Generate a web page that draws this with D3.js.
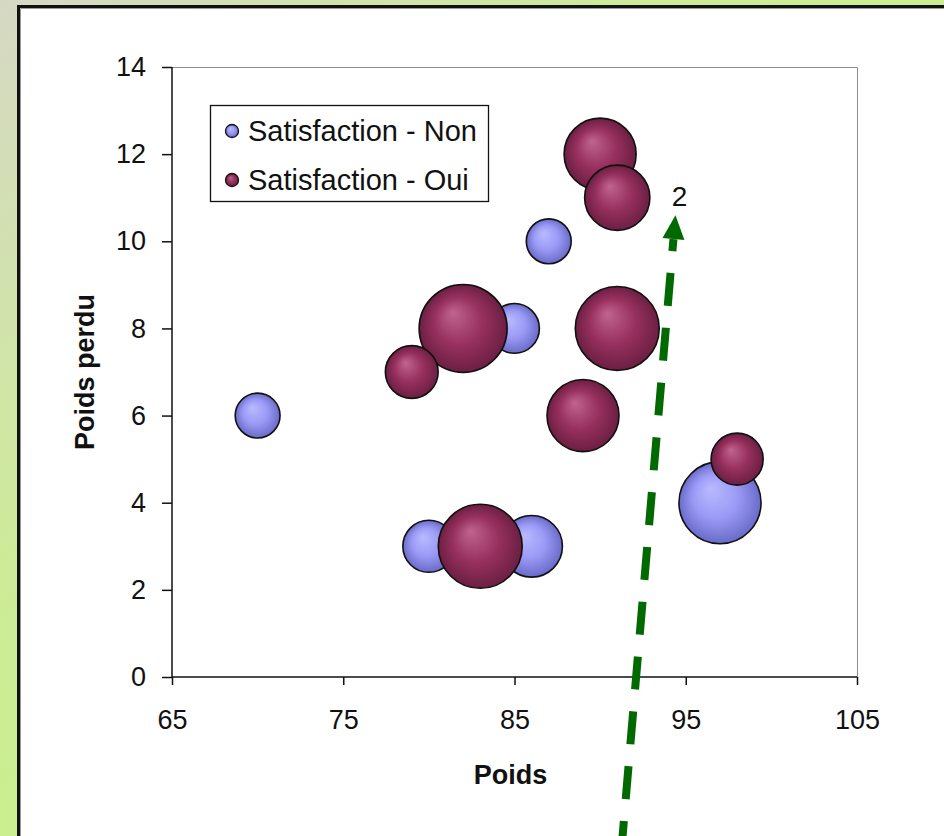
<!DOCTYPE html>
<html><head><meta charset="utf-8">
<script src="https://cdn.jsdelivr.net/npm/d3@7"></script>
<style>html,body{margin:0;padding:0;background:#fff;}svg{display:block;}</style>
</head><body>
<script>
// ---- data ----
const seriesNames = ["Satisfaction - Non", "Satisfaction - Oui"];
const nonX = [70, 87, 85, 80, 86, 97];
const nonY = [6, 10, 8, 3, 3, 4];
const nonSize = [2.6, 2.6, 3.2, 3.5, 4.9, 8.7];
const ouiX = [90, 91, 82, 79, 91, 89, 83, 98];
const ouiY = [12, 11, 8, 7, 8, 6, 3, 5];
const ouiSize = [6.7, 5.5, 10, 3.6, 9.1, 6.7, 9.1, 3.5];
const xTicks = [65, 75, 85, 95, 105];
const yTicks = [0, 2, 4, 6, 8, 10, 12, 14];
const annotationText = "2";
const arrowFrom = [91.3, -3.7];
const arrowTo = [94.4, 10.6];
const labelAt = [94.7, 11.1];

const W = 944, H = 836;
const svg = d3.select("body").append("svg").attr("width", W).attr("height", H);
const defs = svg.append("defs");

// background gradient
const bg = defs.append("linearGradient").attr("id", "bg").attr("x1", "0").attr("y1", "0").attr("x2", "1").attr("y2", "1");
bg.append("stop").attr("offset", "0").attr("stop-color", "#d6d8c4");
bg.append("stop").attr("offset", "0.35").attr("stop-color", "#cdeb98");
bg.append("stop").attr("offset", "1").attr("stop-color", "#c4f878");
svg.append("rect").attr("width", W).attr("height", H).attr("fill", "url(#bg)");

// white panel
svg.append("rect").attr("x", 18.5).attr("y", 6.5).attr("width", W).attr("height", H)
  .attr("fill", "#fff").attr("stroke", "#111").attr("stroke-width", 3);
svg.append("path").attr("d", `M20.5,${H}V8.5H${W}`).attr("fill", "none").attr("stroke", "#999").attr("stroke-width", 1);

function bubbleGrad(id, hi, mid, edge) {
  const g = defs.append("radialGradient").attr("id", id)
    .attr("cx", "0.5").attr("cy", "0.5").attr("r", "0.5").attr("fx", "0.38").attr("fy", "0.32");
  g.append("stop").attr("offset", "0").attr("stop-color", hi);
  g.append("stop").attr("offset", "0.55").attr("stop-color", mid);
  g.append("stop").attr("offset", "1").attr("stop-color", edge);
}
bubbleGrad("gNon", "#babaff", "#9a9af6", "#6a6ac8");
bubbleGrad("gOui", "#c0648e", "#97305e", "#6c1f42");

const x = d3.scaleLinear().domain([65, 105]).range([172, 857]);
const y = d3.scaleLinear().domain([0, 14]).range([677, 67]);
const r = d3.scaleSqrt().domain([0, 10]).range([0, 44]);

// plot frame (top/right gray)
svg.append("path").attr("d", `M${x(65)},${y(14) + 0.5}H${x(105) + 0.5}V${y(0)}`)
  .attr("fill", "none").attr("stroke", "#8c8c8c").attr("stroke-width", 1);

const font = "'Liberation Sans', Arial, sans-serif";

// axes
const yAxis = svg.append("g").attr("transform", `translate(${x(65)},0)`)
  .call(d3.axisLeft(y).tickValues(yTicks).tickSize(10).tickPadding(16).tickFormat(d3.format("d")));
const xAxis = svg.append("g").attr("transform", `translate(0,${y(0)})`)
  .call(d3.axisBottom(x).tickValues(xTicks).tickSize(8).tickPadding(25).tickFormat(d3.format("d")));
[xAxis, yAxis].forEach(a => {
  a.attr("font-size", null);
  a.select(".domain").attr("stroke", "#111").attr("stroke-width", 1.5);
  a.selectAll(".tick line").attr("stroke", "#111").attr("stroke-width", 1.5);
  a.selectAll(".tick text").attr("font-family", font).style("font-size", "27px").attr("fill", "#111");
});
xAxis.select(".domain").attr("d", `M${x(65)},0H${x(105)}`);
yAxis.select(".domain").attr("d", `M0,${y(0)}V${y(14)}`);

// axis titles
svg.append("text").attr("x", (x(65) + x(105)) / 2 - 4).attr("y", 784)
  .attr("text-anchor", "middle").attr("font-family", font).attr("font-weight", "bold")
  .style("font-size", "27px").attr("fill", "#111").text("Poids");
svg.append("text").attr("transform", `translate(94,${(y(0) + y(14)) / 2}) rotate(-90)`)
  .attr("text-anchor", "middle").attr("font-family", font).attr("font-weight", "bold")
  .style("font-size", "27px").attr("fill", "#111").text("Poids perdu");

// bubbles
const nonData = nonX.map((v, i) => ({ x: v, y: nonY[i], s: nonSize[i] }));
const ouiData = ouiX.map((v, i) => ({ x: v, y: ouiY[i], s: ouiSize[i] }));
[[nonData, "gNon"], [ouiData, "gOui"]].forEach(([data, g]) => {
  svg.append("g").selectAll("circle").data(data).join("circle")
    .attr("cx", d => x(d.x)).attr("cy", d => y(d.y)).attr("r", d => r(d.s))
    .attr("fill", `url(#${g})`).attr("stroke", "#111").attr("stroke-width", 1.6);
});

// legend
const lg = svg.append("g");
lg.append("rect").attr("x", 210.5).attr("y", 105.5).attr("width", 278).attr("height", 96)
  .attr("fill", "#fff").attr("stroke", "#111").attr("stroke-width", 1.3);
seriesNames.forEach((n, i) => {
  const cy = 131 + i * 49;
  lg.append("circle").attr("cx", 232).attr("cy", cy).attr("r", 6.5)
    .attr("fill", i === 0 ? "url(#gNon)" : "url(#gOui)").attr("stroke", "#111").attr("stroke-width", 1.3);
  lg.append("text").attr("x", 248).attr("y", cy + 10).attr("font-family", font)
    .style("font-size", "29px").attr("fill", "#111").text(n);
});

// annotation
svg.append("text").attr("x", x(labelAt[0]) - 1).attr("y", 206).attr("text-anchor", "middle")
  .attr("font-family", font).style("font-size", "28px").attr("fill", "#111").text(annotationText);

const x1 = x(arrowFrom[0]), y1 = y(arrowFrom[1]), x2 = x(arrowTo[0]), y2 = y(arrowTo[1]);
const ang = Math.atan2(y2 - y1, x2 - x1);
const headLen = 24, headW = 11;
const bx = x2 - headLen * Math.cos(ang), by = y2 - headLen * Math.sin(ang);
svg.append("line").attr("x1", x1).attr("y1", y1).attr("x2", bx).attr("y2", by)
  .attr("stroke", "#006a00").attr("stroke-width", 8).attr("stroke-dasharray", "33,22")
  .attr("stroke-dashoffset", 15.7);
const px = -Math.sin(ang), py = Math.cos(ang);
svg.append("path")
  .attr("d", `M${x2},${y2}L${bx + px * headW},${by + py * headW}L${bx - px * headW},${by - py * headW}Z`)
  .attr("fill", "#006a00");
</script>
</body></html>
